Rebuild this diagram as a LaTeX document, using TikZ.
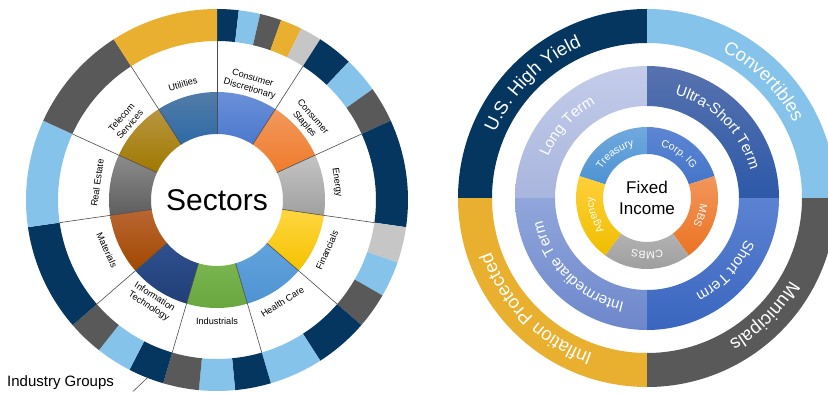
\documentclass[tikz,border=0pt]{standalone}
\usepackage{fontspec}
\setmainfont{Liberation Sans}
\usetikzlibrary{decorations.text}

% ring colours
\definecolor{navy}{HTML}{04365F}
\definecolor{lblue}{HTML}{85C3EA}
\definecolor{dgray}{HTML}{595959}
\definecolor{gold}{HTML}{E9AF2E}
\definecolor{lgray}{HTML}{C6C6C6}
% sectors, top and bottom of each shading
\definecolor{discT}{HTML}{6A90D8}\definecolor{discB}{HTML}{4C78CD}
\definecolor{stapT}{HTML}{F2985C}\definecolor{stapB}{HTML}{EF7C2C}
\definecolor{enerT}{HTML}{C4C4C4}\definecolor{enerB}{HTML}{A0A0A0}
\definecolor{finT}{HTML}{FFD640}\definecolor{finB}{HTML}{F4C200}
\definecolor{hcT}{HTML}{62A3DC}\definecolor{hcB}{HTML}{4E93D2}
\definecolor{indT}{HTML}{7AB550}\definecolor{indB}{HTML}{69A63E}
\definecolor{itT}{HTML}{2E508E}\definecolor{itB}{HTML}{213F78}
\definecolor{matT}{HTML}{BA6632}\definecolor{matB}{HTML}{A04800}
\definecolor{reT}{HTML}{8C8C8C}\definecolor{reB}{HTML}{5E5E5E}
\definecolor{telT}{HTML}{B99641}\definecolor{telB}{HTML}{9F7800}
\definecolor{utilT}{HTML}{527CA8}\definecolor{utilB}{HTML}{2D6AA6}
% fixed income
\definecolor{longT}{HTML}{C4CCE9}\definecolor{longB}{HTML}{A8B5DD}
\definecolor{ultraT}{HTML}{5772AE}\definecolor{ultraB}{HTML}{2D59A8}
\definecolor{interT}{HTML}{90A6DB}\definecolor{interB}{HTML}{6D87CB}
\definecolor{shortT}{HTML}{5C82D2}\definecolor{shortB}{HTML}{3A66BF}
\definecolor{treasT}{HTML}{70A9DE}\definecolor{treasB}{HTML}{4D93D2}
\definecolor{corpT}{HTML}{5D86D4}\definecolor{corpB}{HTML}{4575C8}
\definecolor{mbsT}{HTML}{F2965B}\definecolor{mbsB}{HTML}{EB7322}
\definecolor{cmbsT}{HTML}{B2B2B2}\definecolor{cmbsB}{HTML}{9C9C9C}
\definecolor{agenT}{HTML}{FFD038}\definecolor{agenB}{HTML}{EEBE00}

\begin{document}
\begin{tikzpicture}[x=1pt,y=1pt,
	seclabel/.style={
		font=\fontsize{9.2}{11}\selectfont,
		align=center,
		inner sep=0pt
	},
	spoke/.style={
		draw=black!70,
		line width=0.6pt
	},
	ringtext/.style={
		decorate,
		decoration={text along path, text align=center, text color=white, text={#1}}
	}
	]
	\useasboundingbox (0,0) rectangle (828,392);
	\coordinate (lc) at (217,192);
	\coordinate (rc) at (647,194);

	% Sectors and industry groups
	\begin{scope}[shift={(lc)}]
	\foreach \k/\n/\cols in {0/5/{navy,lblue,dgray,gold,lgray},1/3/{navy,lblue,dgray},2/1/{navy},3/3/{lgray,lblue,dgray},4/2/{navy,lblue},5/3/{navy,lblue,dgray},6/3/{navy,lblue,dgray},7/1/{navy},8/1/{lblue},9/1/{dgray},10/1/{gold}}{
		\foreach \c [count=\j from 0] in \cols{
			\pgfmathsetmacro\sa{90-(\k+\j/\n)*360/11}
			\pgfmathsetmacro\ea{90-(\k+(\j+1)/\n)*360/11}
			\fill[\c] (\sa:191) arc[start angle=\sa, end angle=\ea, radius=191]
				-- (\ea:159) arc[start angle=\ea, end angle=\sa, radius=159] -- cycle;
		}
	}
	\foreach \k/\c in {0/disc,1/stap,2/ener,3/fin,4/hc,5/ind,6/it,7/mat,8/re,9/tel,10/util}{
		\pgfmathsetmacro\sa{90-\k*360/11}
		\pgfmathsetmacro\ea{90-(\k+1)*360/11}
		\shade[top color=\c T, bottom color=\c B] (\sa:108) arc[start angle=\sa, end angle=\ea, radius=108]
			-- (\ea:66) arc[start angle=\ea, end angle=\sa, radius=66] -- cycle;
	}
	\foreach \k in {0,...,10}
		\draw[spoke] ({90-\k*360/11}:66) -- ({90-\k*360/11}:159);
	\foreach \k/\nm/\txt in {0/disc/{Consumer\\Discretionary},1/stap/{Consumer\\Staples},2/ener/Energy,3/fin/Financials,4/hc/Health Care,5/ind/Industrials,6/it/{Information\\Technology},7/mat/Materials,8/re/Real Estate,9/tel/{Telecom\\Services},10/util/Utilities}{
		\pgfmathsetmacro\md{90-(\k+0.5)*360/11}
		\pgfmathsetmacro\rt{(\k>2 && \k<8) ? \md+90 : \md-90}
		\node[seclabel, rotate=\rt] (\nm) at (\md:121) {\txt};
	}
	\node[font=\fontsize{30}{30}\selectfont] (sectors) at (0,0) {Sectors};
	\end{scope}

	\node[font=\fontsize{15}{15}\selectfont, inner sep=0pt, anchor=west] (groups) at (7,9) {Industry Groups};
	\coordinate (groupsfoot) at (133,0.5);
	\coordinate (groupsring) at ([shift={(lc)}]-111.4:191);
	\draw[spoke] (groupsfoot) -- (groupsring);

	% Fixed income
	\begin{scope}[shift={(rc)}]
	\foreach \s/\c in {90/navy,0/lblue,180/gold,270/dgray}
		\fill[\c] (\s:189) arc[start angle=\s, end angle=\s+90, radius=189]
			-- ({\s+90}:155) arc[start angle=\s+90, end angle=\s, radius=155] -- cycle;
	\foreach \s/\c in {90/long,0/ultra,180/inter,270/short}
		\shade[top color=\c T, bottom color=\c B] (\s:132) arc[start angle=\s, end angle=\s+90, radius=132]
			-- ({\s+90}:92) arc[start angle=\s+90, end angle=\s, radius=92] -- cycle;
	\foreach \s/\c in {90/treas,18/corp,-54/mbs,-126/cmbs,162/agen}
		\shade[top color=\c T, bottom color=\c B] (\s:71) arc[start angle=\s, end angle=\s+72, radius=71]
			-- ({\s+72}:44) arc[start angle=\s+72, end angle=\s, radius=44] -- cycle;

	\path[ringtext={|\fontsize{18.5}{18.5}\selectfont|U.S. High Yield}] (175:165) arc[start angle=175, end angle=95, radius=165];
	\path[ringtext={|\fontsize{18.5}{18.5}\selectfont|Convertibles}] (85:165) arc[start angle=85, end angle=5, radius=165];
	\path[ringtext={|\fontsize{18.5}{18.5}\selectfont|Inflation Protected}] (265:165) arc[start angle=265, end angle=185, radius=165];
	\path[ringtext={|\fontsize{18.5}{18.5}\selectfont|Municipals}] (-5:165) arc[start angle=-5, end angle=-85, radius=165];

	\path[ringtext={|\fontsize{15}{15}\selectfont|Long Term}] (178:107) arc[start angle=178, end angle=98, radius=107];
	\path[ringtext={|\fontsize{15}{15}\selectfont|Ultra-Short Term}] (85:107) arc[start angle=85, end angle=5, radius=107];
	\path[ringtext={|\fontsize{15}{15}\selectfont|Intermediate Term}] (265:107) arc[start angle=265, end angle=185, radius=107];
	\path[ringtext={|\fontsize{15}{15}\selectfont|Short Term}] (-3:107) arc[start angle=-3, end angle=-83, radius=107];

	\path[ringtext={|\fontsize{10.5}{10.5}\selectfont|Treasury}] (156:53.5) arc[start angle=156, end angle=96, radius=53.5];
	\path[ringtext={|\fontsize{10.5}{10.5}\selectfont|Corp. IG}] (84:53.5) arc[start angle=84, end angle=24, radius=53.5];
	\path[ringtext={|\fontsize{10.5}{10.5}\selectfont|MBS}] (12:53.5) arc[start angle=12, end angle=-48, radius=53.5];
	\path[ringtext={|\fontsize{10.5}{10.5}\selectfont|CMBS}] (-60:53.5) arc[start angle=-60, end angle=-120, radius=53.5];
	\path[ringtext={|\fontsize{10.5}{10.5}\selectfont|Agency}] (228:53.5) arc[start angle=228, end angle=168, radius=53.5];

	\node[font=\fontsize{17}{21}\selectfont, align=center] (fixed) at (0,0) {Fixed\\Income};
	\end{scope}
\end{tikzpicture}
\end{document}
